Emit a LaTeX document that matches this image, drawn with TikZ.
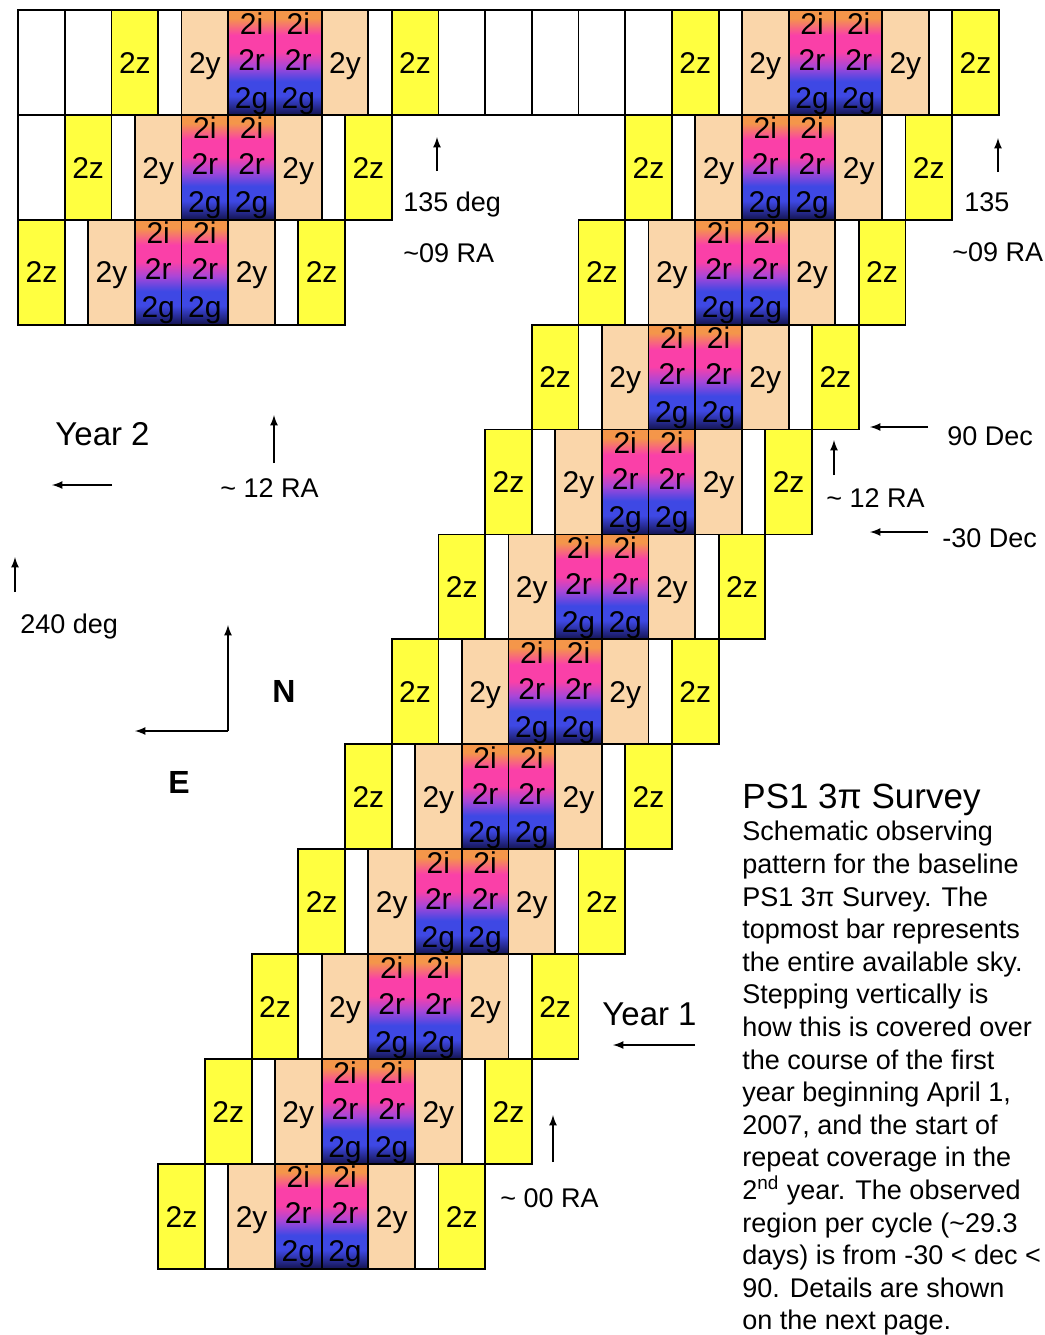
\documentclass[tikz,border=0pt]{standalone}
\usepackage{fontspec}
\setmainfont{Liberation Sans}

\definecolor{zyellow}{RGB}{255,255,64}
\definecolor{ypeach}{RGB}{250,214,170}
\definecolor{gorange}{RGB}{244,150,74}
\definecolor{gpink}{RGB}{250,64,168}
\definecolor{gpurple}{RGB}{168,70,216}
\definecolor{gblue}{RGB}{62,72,228}
\definecolor{gnavy}{RGB}{20,20,80}

% filter band shading, bottom (2g) to top (2i)
\pgfdeclareverticalshading{filtgrad}{100bp}{color(0bp)=(gnavy); color(25bp)=(gnavy);
  color(34bp)=(gblue); color(41bp)=(gblue); color(48bp)=(gpurple); color(55bp)=(gpink);
  color(63bp)=(gpink); color(71bp)=(gorange); color(100bp)=(gorange)}

\begin{document}
\begin{tikzpicture}[x=0.5pt, y=-0.5pt,
  cell/.style={draw, line width=0.9pt, inner sep=0pt, anchor=north west,
    minimum width=23.35pt, minimum height=52.45pt,
    font=\fontsize{15}{15}\selectfont, text height=10.75pt, text depth=0pt},
  blank/.style={cell, fill=white},
  slot/.style={cell, fill=white, minimum width=11.675pt},
  zband/.style={cell, fill=zyellow},
  yband/.style={cell, fill=ypeach},
  gband/.style={cell, shade, shading=filtgrad},
  flt/.style={font=\fontsize{15}{15}\selectfont, inner sep=0pt, anchor=base},
  lbl/.style={font=\fontsize{13.5}{16}\selectfont, inner sep=0pt, anchor=base west},
  year/.style={lbl, font=\fontsize{16.5}{18}\selectfont},
  compass/.style={lbl, font=\bfseries\fontsize{16}{18}\selectfont},
  pointer/.style={-latex, line width=0.8pt}]
  \useasboundingbox[fill=white] (0,0) rectangle (1045,1335);

  % empty sky in the top bar
  \foreach \k in {0,1,9,10,11,12,13}
    \node[blank] (sky\k) at (17.2+46.7*\k,9) {};
  \node[blank] (sky14) at (17.2,113.9) {};

  % one row per cycle, rows 13-15 are year 2
  \foreach \r in {1,...,15} {
    \pgfmathsetmacro\cx{671-46.7*(\r-1)}
    \pgfmathsetmacro\ty{9+104.9*mod(\r-1,12)}
    \node[zband] (za\r) at (\cx,\ty) {2z};
    \node[slot]  (sa\r) at (\cx+46.7,\ty) {};
    \node[yband] (ya\r) at (\cx+70.05,\ty) {2y};
    \node[gband] (ga\r) at (\cx+116.75,\ty) {};
    \node[gband] (gb\r) at (\cx+163.45,\ty) {};
    \node[yband] (yb\r) at (\cx+210.15,\ty) {2y};
    \node[slot]  (sb\r) at (\cx+256.85,\ty) {};
    \node[zband] (zb\r) at (\cx+280.2,\ty) {2z};
  }
  \foreach \r in {1,...,15}
    \foreach \g in {ga,gb} {
      \node[flt] (i\g\r) at ([yshift=-12.5pt]\g\r.north) {2i};
      \node[flt] (r\g\r) at ([yshift=-30.5pt]\g\r.north) {2r};
      \node[flt] (x\g\r) at ([yshift=-49.5pt]\g\r.north) {2g};
    }

  % labels round the bar
  \node[lbl] (deg135) at (403,211) {135 deg};
  \node[lbl] (ra09) at (403,262) {\textasciitilde09 RA};
  \node[lbl] (deg135r) at (964,211) {135};
  \node[lbl] (ra09r) at (952,261) {\textasciitilde09 RA};
  \node[year] (year2) at (55,445) {Year 2};
  \node[lbl] (ra12) at (220,497) {\textasciitilde{} 12 RA};
  \node[lbl] (deg240) at (20,633) {240 deg};
  \node[compass] (north) at (272,702) {N};
  \node[compass] (east) at (168,793) {E};
  \node[lbl] (dec90) at (947,445) {90 Dec};
  \node[lbl] (ra12r) at (826,507) {\textasciitilde{} 12 RA};
  \node[lbl] (dec30) at (942,547) {-30 Dec};
  \node[year] (year1) at (602,1025) {Year 1};
  \node[lbl] (ra00) at (500,1207) {\textasciitilde{} 00 RA};

  \coordinate (a1) at (437,171); \coordinate (a1t) at (437,137);
  \coordinate (a2) at (998,172); \coordinate (a2t) at (998,138);
  \coordinate (a3) at (112,485); \coordinate (a3t) at (52,485);
  \coordinate (a4) at (274,463); \coordinate (a4t) at (274,415);
  \coordinate (a5) at (15,592);  \coordinate (a5t) at (15,557);
  \coordinate (a6) at (834,475); \coordinate (a6t) at (834,440);
  \coordinate (a7) at (928,427); \coordinate (a7t) at (870,427);
  \coordinate (a8) at (928,532); \coordinate (a8t) at (870,532);
  \coordinate (a9) at (695,1045); \coordinate (a9t) at (613,1045);
  \coordinate (a10) at (553,1162); \coordinate (a10t) at (553,1115);
  \foreach \a in {a1,a2,a3,a4,a5,a6,a7,a8,a9,a10}
    \draw[pointer] (\a) -- (\a t);

  % compass
  \coordinate (corner) at (228,731);
  \coordinate (ntip) at (228,625);
  \coordinate (etip) at (135,731);
  \draw[pointer] (corner) -- (ntip);
  \draw[pointer] (corner) -- (etip);

  % caption
  \node[lbl, font=\fontsize{17.5}{20}\selectfont] (title) at (742,808) {PS1 3π Survey};
  \node[lbl, anchor=north west, align=left, font=\fontsize{13.5}{16.3}\selectfont]
    (caption) at (742,821) {Schematic observing\\
    pattern for the baseline\\
    PS1 3π Survey. The\\
    topmost bar represents\\
    the entire available sky.\\
    Stepping vertically is\\
    how this is covered over\\
    the course of the first\\
    year beginning April 1,\\
    2007, and the start of\\
    repeat coverage in the\\
    2\textsuperscript{nd} year. The observed\\
    region per cycle (\textasciitilde29.3\\
    days) is from -30 < dec <\\
    90.  Details are shown\\
    on the next page.};
\end{tikzpicture}
\end{document}
